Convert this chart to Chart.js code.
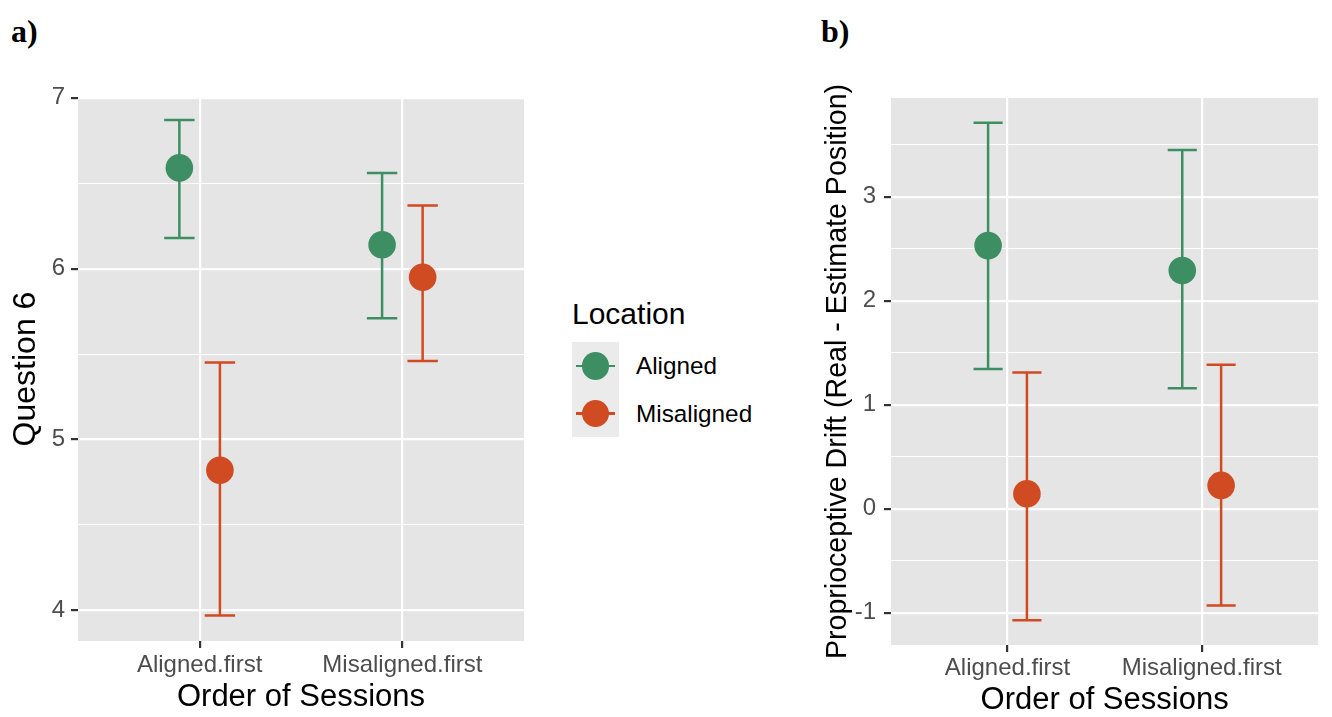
<!DOCTYPE html>
<html>
<head>
<meta charset="utf-8">
<script src="https://cdn.jsdelivr.net/npm/chart.js@4.4.1/dist/chart.umd.min.js"></script>
<style>
  html, body { margin:0; padding:0; background:#ffffff; width:1332px; height:717px; overflow:hidden; }
  canvas { position:absolute; top:0; }
  #chartA { left:0; }
  #chartB { left:780px; }
  .plabel { position:absolute; font-family:'Liberation Serif','DejaVu Serif',serif; font-weight:bold; font-size:32px; line-height:32px; color:#000; }
  .ltxt { position:absolute; font-family:'Liberation Sans',Arial,Helvetica,sans-serif; color:#000; white-space:nowrap; }
  .keybg { position:absolute; background:#EBEBEB; }
  .keyline { position:absolute; height:2.4px; }
  .keydot { position:absolute; border-radius:50%; }
</style>
</head>
<body>
<div class="plabel" style="left:11px;top:15px;">a)</div>
<div class="plabel" style="left:821px;top:15px;">b)</div>

<canvas id="chartA" width="560" height="717"></canvas>
<canvas id="chartB" width="552" height="717"></canvas>

<div id="legend"></div>

<script>
// ---------------- data ----------------
const categories = ['Aligned.first', 'Misaligned.first'];
const seriesNames = ['Aligned', 'Misaligned'];
const xTickValues = [1, 2];

const q6TickValues = [4, 4.5, 5, 5.5, 6, 6.5, 7];
const driftTickValues = [-1, -0.5, 0, 0.5, 1, 1.5, 2, 2.5, 3, 3.5];

// Panel a) Question 6
const q6AlignedMean     = [6.59, 6.14];
const q6AlignedLow      = [6.18, 5.71];
const q6AlignedHigh     = [6.87, 6.56];
const q6MisalignedMean  = [4.82, 5.95];
const q6MisalignedLow   = [3.97, 5.46];
const q6MisalignedHigh  = [5.45, 6.37];

// Panel b) Proprioceptive drift
const driftAlignedMean     = [2.53, 2.29];
const driftAlignedLow      = [1.345, 1.16];
const driftAlignedHigh     = [3.71, 3.45];
const driftMisalignedMean  = [0.145, 0.225];
const driftMisalignedLow   = [-1.07, -0.93];
const driftMisalignedHigh  = [1.31, 1.385];

// ---------------- styles ----------------
const GREEN = '#3D8F63';
const ORANGE = '#D04B22';
const seriesColors = [GREEN, ORANGE];
const PANEL_BG = '#E5E5E5';
const DODGE = 0.1;
const CAP = 0.075;
const FONT = "'Liberation Sans', Arial, Helvetica, sans-serif";
Chart.defaults.font.family = FONT;

function isMajor(v) { return Math.abs(v - Math.round(v)) < 1e-6; }

function errorData(low, high, off) {
  const pts = [];
  categories.forEach((c, i) => {
    const x = xTickValues[i] + off;
    pts.push({x: x - CAP, y: high[i]}, {x: x + CAP, y: high[i]}, {x: x, y: null});
    pts.push({x: x, y: high[i]}, {x: x, y: low[i]}, {x: x, y: null});
    pts.push({x: x - CAP, y: low[i]}, {x: x + CAP, y: low[i]}, {x: x, y: null});
  });
  return pts;
}
function pointData(mean, off) {
  return categories.map((c, i) => ({x: xTickValues[i] + off, y: mean[i]}));
}
function buildDatasets(groups) {
  const ds = [];
  groups.forEach((g, k) => {
    const off = k === 0 ? -DODGE : DODGE;
    ds.push({
      label: seriesNames[k] + ' mean', data: pointData(g.mean, off),
      showLine: false, pointRadius: 13.8, pointHoverRadius: 13.8,
      pointBackgroundColor: seriesColors[k], pointBorderWidth: 0,
      borderColor: seriesColors[k], order: 0
    });
    ds.push({
      type: 'line', label: seriesNames[k] + ' CI', data: errorData(g.low, g.high, off),
      showLine: true, spanGaps: false, pointRadius: 0, borderWidth: 2.5,
      borderColor: seriesColors[k], fill: false, tension: 0, order: 1
    });
  });
  return ds;
}

const bgPlugin = {
  id: 'panelBg',
  beforeDraw(chart) {
    const {ctx, chartArea: a} = chart;
    ctx.save();
    ctx.fillStyle = PANEL_BG;
    ctx.fillRect(a.left, a.top, a.right - a.left, a.bottom - a.top);
    ctx.restore();
  }
};

function makeChart(id, cfg) {
  return new Chart(document.getElementById(id), {
    type: 'scatter',
    data: { datasets: buildDatasets(cfg.groups) },
    options: {
      responsive: false, animation: false, devicePixelRatio: 1, events: [],
      layout: { padding: { top: cfg.top, right: cfg.right, left: 0, bottom: 0 } },
      plugins: { legend: { display: false }, tooltip: { enabled: false } },
      scales: {
        x: {
          type: 'linear', min: 0.4, max: 2.6,
          afterBuildTicks: s => { s.ticks = xTickValues.map(v => ({value: v})); },
          afterFit: s => { s.height = cfg.xh; },
          ticks: { autoSkip: false, maxRotation: 0, padding: cfg.xtp, color: '#4D4D4D',
                   font: { size: 24 }, callback: (v, i) => categories[i] },
          grid: { color: '#ffffff', lineWidth: 2.2, tickColor: '#333333', tickWidth: 2.2, tickLength: 7 },
          border: { display: false },
          title: { display: true, text: 'Order of Sessions', color: '#000',
                   font: { size: 31, lineHeight: 1 }, padding: { top: 0, bottom: cfg.xtitlePad } }
        },
        y: {
          type: 'linear', min: cfg.ymin, max: cfg.ymax,
          afterBuildTicks: s => { s.ticks = cfg.yticks.map(v => ({value: v})); },
          afterFit: s => { s.width = cfg.yw; },
          ticks: { autoSkip: false, padding: cfg.ytp, color: '#4D4D4D', font: { size: 24 },
                   callback: v => isMajor(v) ? String(Math.round(v)) : '' },
          grid: {
            color: '#ffffff',
            lineWidth: ctx => (ctx.tick && isMajor(ctx.tick.value)) ? 2.2 : 1.1,
            tickColor: ctx => (ctx.tick && isMajor(ctx.tick.value)) ? '#333333' : 'rgba(0,0,0,0)',
            tickWidth: 2.2, tickLength: 7
          },
          border: { display: false },
          title: { display: true, text: cfg.ytitle, color: '#000',
                   font: { size: cfg.ytitleSize, lineHeight: 1 }, padding: { top: cfg.ytitlePad, bottom: 0 } }
        }
      }
    },
    plugins: [bgPlugin]
  });
}

makeChart('chartA', {
  groups: [
    { mean: q6AlignedMean, low: q6AlignedLow, high: q6AlignedHigh },
    { mean: q6MisalignedMean, low: q6MisalignedLow, high: q6MisalignedHigh }
  ],
  top: 97, right: 36, xh: 76, yw: 78, xtp: 3, ytp: 6, xtitlePad: 4,
  ymin: 3.82, ymax: 7.005, yticks: q6TickValues,
  ytitle: 'Question 6', ytitleSize: 32, ytitlePad: 10
});

makeChart('chartB', {
  groups: [
    { mean: driftAlignedMean, low: driftAlignedLow, high: driftAlignedHigh },
    { mean: driftMisalignedMean, low: driftMisalignedLow, high: driftMisalignedHigh }
  ],
  top: 98, right: 3, xh: 72, yw: 111, xtp: 2, ytp: 8, xtitlePad: 1.5,
  ymin: -1.309, ymax: 3.949, yticks: driftTickValues,
  ytitle: 'Proprioceptive Drift (Real - Estimate Position)', ytitleSize: 28.6, ytitlePad: 44
});

// ---------------- legend (HTML) ----------------
(function buildLegend() {
  const lg = document.getElementById('legend');
  const add = (cls, style, text) => {
    const d = document.createElement('div');
    d.className = cls; d.setAttribute('style', style);
    if (text) d.textContent = text;
    lg.appendChild(d);
  };
  add('ltxt', 'left:572px;top:298.6px;font-size:30px;line-height:30px;', 'Location');
  add('keybg', 'left:572px;top:342px;width:47px;height:95px;');
  const centers = [366, 413.5];
  seriesNames.forEach((name, k) => {
    const cy = centers[k];
    add('keyline', `left:576px;top:${cy - 1.2}px;width:39px;background:${seriesColors[k]};`);
    add('keydot', `left:${595.5 - 13.8}px;top:${cy - 13.8}px;width:27.6px;height:27.6px;background:${seriesColors[k]};`);
    add('ltxt', `left:636px;top:${cy + 8.6 - 20.3}px;font-size:24.3px;line-height:24px;`, name);
  });
})();
</script>
</body>
</html>
